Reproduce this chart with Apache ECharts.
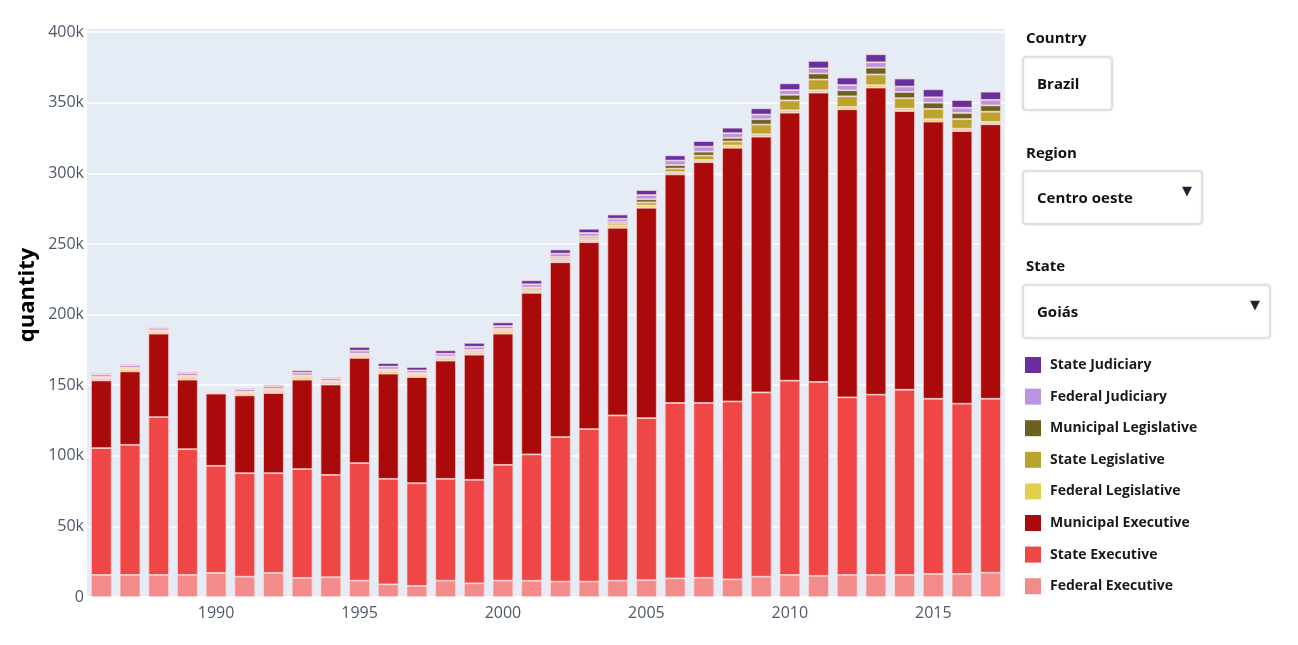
<!DOCTYPE html>
<html>
<head>
<meta charset="utf-8">
<title>quantity by year</title>
<script src="https://cdn.jsdelivr.net/npm/echarts@6/dist/echarts.min.js"></script>
<style>
	html, body { margin: 0; padding: 0; background: #fff; }
	.main { width: 1298px; height: 645px; }
</style>
</head>
<body>
<div class="main"></div>
<script>
// 年份
const years = ['1986','1987','1988','1989','1990','1991','1992','1993','1994','1995','1996','1997','1998','1999','2000','2001',
	'2002','2003','2004','2005','2006','2007','2008','2009','2010','2011','2012','2013','2014','2015','2016','2017'];

// 各层数值（单位 k）
const fedExec = [15.6,15.6,15.6,15.6,17,14.4,17,13.5,14,11.6,9,7.8,11.6,9.7,11.6,11.5,
	10.9,10.9,11.6,12,13.2,13.6,12.5,14.4,15.6,15,15.6,15.6,15.6,16.3,16.3,17.2];
const stateExec = [89.9,92.2,111.8,89.1,75.9,73.3,70.7,77.1,72.5,83.2,74.7,72.8,72.1,73.3,82,89.5,
	102.4,108,117,114.7,124.2,123.8,126,130.5,137.6,137.3,125.8,127.7,131.2,124.1,120.6,123.2];
const munExec = [47.9,52,59.1,49.2,51.1,55.1,56.8,63.3,63.9,74.5,74.5,75.2,83.7,88.6,92.9,114.4,
	123.8,132.4,132.9,149,161.9,170.6,179.7,181.1,189.8,204.9,204,217.5,197.4,196.3,193.1,194.4];
const fedLeg = [1.4,1.4,1.3,1.5,0.6,1.4,1.5,1.5,1.4,1.5,1.5,1.4,1.4,1.5,1.5,1.5,
	1.5,1.5,1.5,1.6,1.6,1.6,1.6,1.7,1.7,1.7,1.7,1.7,1.7,1.7,1.7,1.7];
const stateLeg = [0.9,0.9,0.8,1.0,0.2,0.9,1.0,1.1,1.0,1.0,1.0,0.9,1.0,1.2,1.1,1.3,
	1.3,1.4,1.4,2.2,2.5,3.0,2.8,6.9,7.0,7.6,7.5,7.6,7.4,7.3,6.8,7.2];
const munLeg = [0.3,0.3,0.3,0.3,0.1,0.3,0.4,0.4,0.3,0.5,0.5,0.5,0.5,0.6,0.8,1.0,
	1.0,1.2,1.2,2.2,2.5,2.8,2.6,3.8,4.0,4.3,4.3,4.8,4.4,4.4,4.3,4.5];
const fedJud = [1.8,1.8,1.7,2.0,0,1.8,2.0,2.0,1.8,2.2,2.0,1.9,2.0,2.3,2.0,2.3,
	2.3,2.4,2.3,3.0,3.2,3.5,3.3,3.3,3.3,3.6,3.7,3.8,3.8,3.8,3.7,3.9];
const stateJud = [0.8,0.8,0.7,0.9,0,0.8,1.0,1.6,0.9,2.6,2.5,2.4,2.4,2.8,2.6,2.8,
	2.9,3.0,3.0,3.5,3.7,4.0,3.9,4.4,4.8,5.3,5.3,5.7,5.7,5.7,5.5,5.8];

// y 轴刻度
const yTicks = [0, 50, 100, 150, 200, 250, 300, 350, 400];

// 系列名称 + 颜色（从下往上堆叠）
const names = ['Federal Executive','State Executive','Municipal Executive','Federal Legislative',
	'State Legislative','Municipal Legislative','Federal Judiciary','State Judiciary'];
const colors = ['#f48b8b','#ef4646','#aa0a0a','#e4cf4c','#bca42c','#6c6220','#b994df','#6a2f9f'];
const values = [fedExec, stateExec, munExec, fedLeg, stateLeg, munLeg, fedJud, stateJud];

const font = '"Open Sans", sans-serif';

let series = [];
for(let i = 0; i < names.length; i++) {
	series.push({
		name: names[i],
		type: 'bar',
		stack: 'total',
		barWidth: '72%',
		data: values[i],
		itemStyle: {
			color: colors[i],
			borderColor: 'rgba(255,220,220,0.85)',
			borderWidth: 0.8
		}
	});
}

// 下拉框
function dropdown(label, text, labelTop, boxTop, w, arrow) {
	let arr = [
		{ type: 'text', left: 1026, top: labelTop, style: { text: label, font: 'bold 15px ' + font, fill: '#111' } },
		{ type: 'rect', shape: { x: 1023, y: boxTop, width: w, height: 53, r: 3 },
			style: { fill: '#fff', stroke: '#dcdcdc', lineWidth: 1.5, shadowBlur: 3, shadowColor: 'rgba(0,0,0,0.12)' } },
		{ type: 'text', left: 1037, top: boxTop + 20, style: { text: text, font: 'bold 15px ' + font, fill: '#111' } }
	];
	if(arrow) {
		arr.push({ type: 'text', left: 1023 + w - 20, top: boxTop + 14, style: { text: '▼', font: '13px "DejaVu Sans"', fill: '#1c2433' } });
	}
	return arr;
}

let myChart = echarts.init(document.getElementsByClassName('main')[0]);

let option = {
	animation: false,
	textStyle: { fontFamily: font },
	grid: {
		left: 87,
		right: 293,
		top: 28,
		bottom: 48,
		show: true,
		backgroundColor: '#e5ecf6',
		borderWidth: 0
	},
	legend: {
		data: names.slice().reverse(),
		orient: 'vertical',
		left: 1025,
		top: 357,
		padding: 0,
		itemWidth: 16,
		itemHeight: 16,
		itemGap: 15.6,
		icon: 'rect',
		selectedMode: false,
		itemStyle: { borderWidth: 0 },
		textStyle: {
			fontFamily: font,
			fontWeight: 'bold',
			fontSize: 14,
			lineHeight: 16,
			color: '#1a1a1a',
			padding: [0, 0, 0, 4]
		}
	},
	xAxis: {
		type: 'category',
		data: years,
		axisLine: { show: false },
		axisTick: { show: false },
		axisLabel: {
			interval: (i, v) => Number(v) % 5 === 0,
			color: '#4e5868',
			fontSize: 16,
			margin: 8
		}
	},
	yAxis: {
		type: 'value',
		min: 0,
		max: 403,
		interval: 50,
		axisLine: { show: false },
		axisTick: { show: false },
		splitLine: { lineStyle: { color: '#ffffff', width: 1.5 } },
		axisLabel: {
			color: '#4e5868',
			fontSize: 16,
			margin: 3,
			formatter: v => yTicks.indexOf(v) >= 0 ? (v === 0 ? '0' : v + 'k') : ''
		}
	},
	graphic: [
		{ type: 'text', x: 28, y: 295, rotation: Math.PI / 2,
			style: { text: 'quantity', font: 'bold 22px ' + font, fill: '#000', align: 'center', verticalAlign: 'middle' } }
	].concat(
		dropdown('Country', 'Brazil', 31, 57, 89, false),
		dropdown('Region', 'Centro oeste', 146, 171, 179, true),
		dropdown('State', 'Goiás', 259, 285, 247, true)
	),
	series: series
};
// 渲染
myChart.setOption(option);
</script>
</body>
</html>
